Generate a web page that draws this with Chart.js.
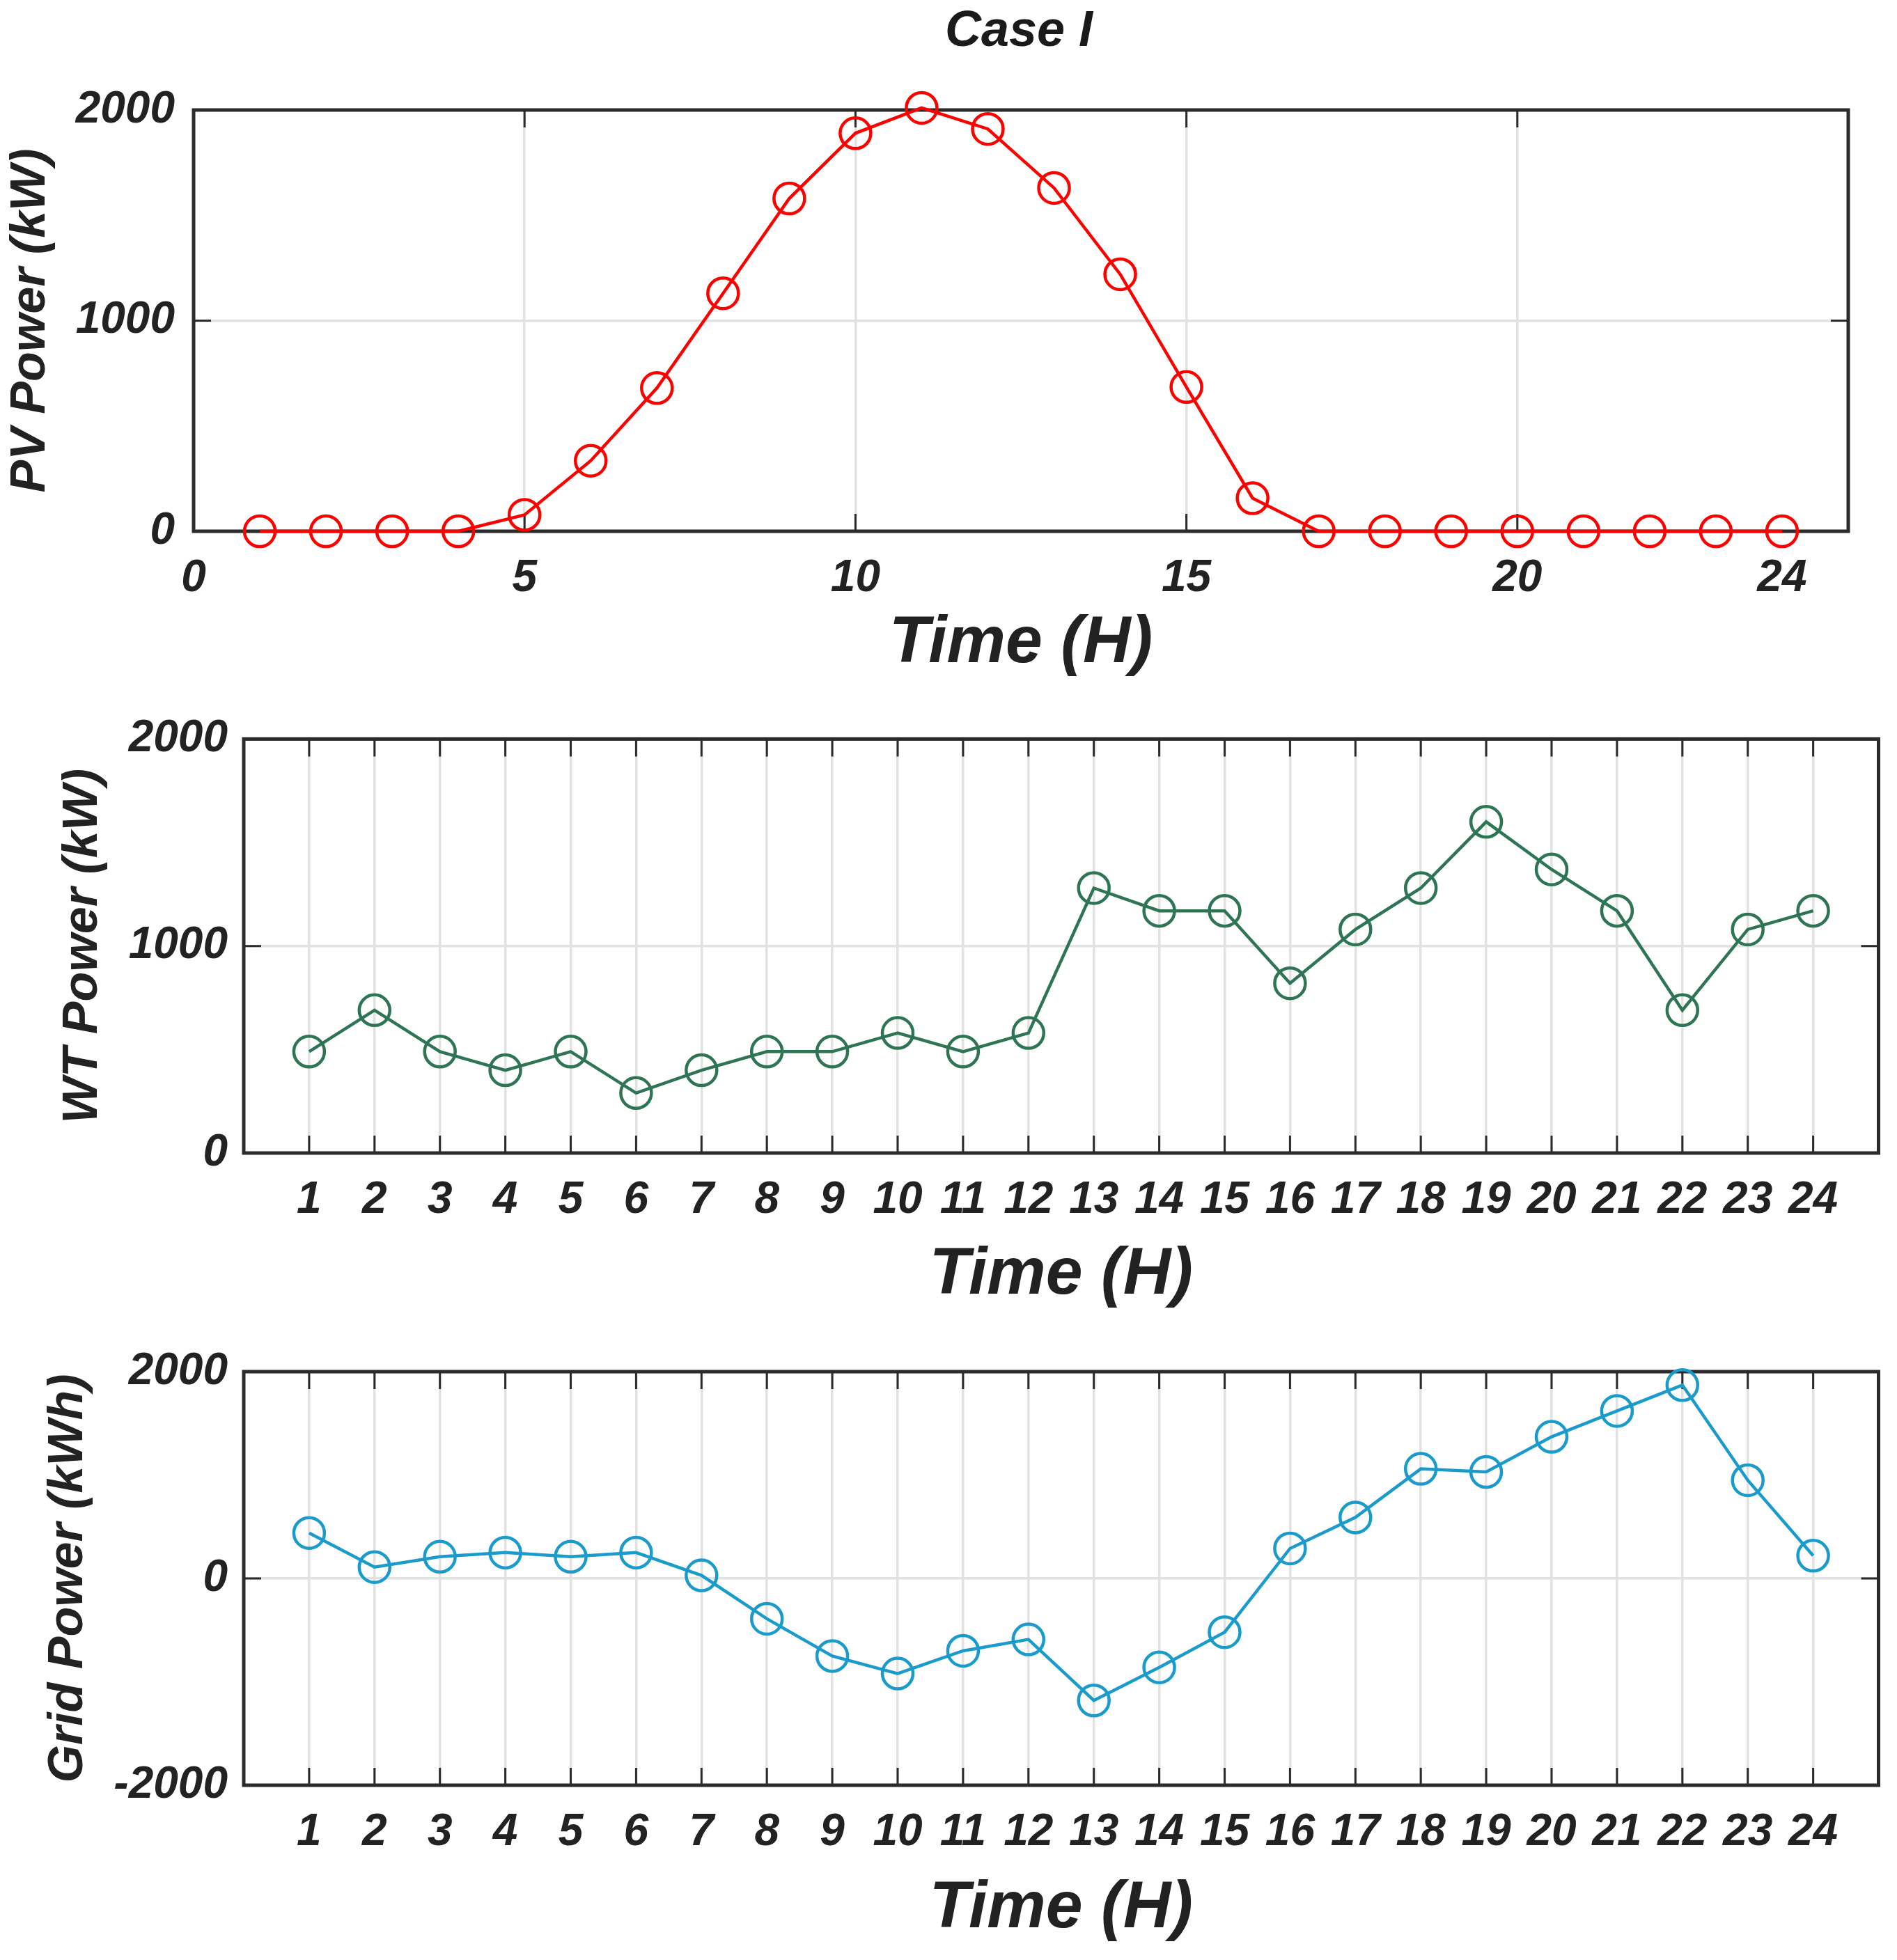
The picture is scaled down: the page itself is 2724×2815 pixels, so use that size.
<!DOCTYPE html>
<html>
<head>
<meta charset="utf-8">
<script src="https://cdn.jsdelivr.net/npm/chart.js@4.4.1/dist/chart.umd.min.js"></script>
<style>
  html, body { margin: 0; padding: 0; background: #ffffff; }
  body { width: 2724px; height: 2815px; position: relative; overflow: hidden; }
  canvas { position: absolute; left: 0; }
  #title { position: absolute; left: 1263px; width: 400px; top: 0px; height: 80px; line-height: 80px;
           text-align: center; font: italic bold 72px "Liberation Sans", Arial, sans-serif; color: #1a1a1a; }
</style>
</head>
<body>
<div id="title">Case I</div>
<canvas id="c1" width="2724" height="1000" style="top:0px"></canvas>
<canvas id="c2" width="2724" height="900" style="top:1000px"></canvas>
<canvas id="c3" width="2724" height="915" style="top:1900px"></canvas>
<script>
// ---------------- data ----------------
const hours = [1,2,3,4,5,6,7,8,9,10,11,12,13,14,15,16,17,18,19,20,21,22,23,24];
const pvPower = [0,0,0,0,78,335,680,1130,1580,1890,2010,1910,1630,1220,685,157,0,0,0,0,0,0,0,0];
const wtPower = [490,690,490,400,490,290,400,490,490,580,490,580,1280,1170,1170,820,1080,1280,1600,1370,1170,690,1080,1170];
const gridPower = [440,110,210,250,210,250,30,-390,-750,-920,-700,-590,-1180,-860,-520,290,590,1060,1030,1370,1620,1870,950,220];
const pvXTicks = [0,5,10,15,20,24];
const pvXGridless = [24];
const pvYTicks = [0,1000,2000];
const wtYTicks = [0,1000,2000];
const gridYTicks = [-2000,0,2000];
const xTitle = 'Time (H)';
const pvTitle = 'PV Power (kW)';
const wtTitle = 'WT Power (kW)';
const gridTitle = 'Grid Power (kWh)';

// ---------------- styles ----------------
const FAMILY = '"Liberation Sans", Arial, sans-serif';
const TEXT = '#222222';
const GRID = '#e2e2e2';
const AXIS = '#2b2b2b';

const boxPlugin = {
  id: 'boxTicks',
  beforeDatasetsDraw(chart, args, opts) {
    const {ctx, chartArea: {left, top, right, bottom}} = chart;
    const xs = chart.scales.x, ys = chart.scales.y;
    const skip = opts.skip || [];
    const L = 25;
    ctx.save();
    ctx.strokeStyle = AXIS;
    ctx.lineWidth = 3;
    ctx.beginPath();
    xs.ticks.forEach(t => {
      if (skip.includes(t.value)) return;
      const px = xs.getPixelForValue(t.value);
      ctx.moveTo(px, bottom); ctx.lineTo(px, bottom - L);
      ctx.moveTo(px, top); ctx.lineTo(px, top + L);
    });
    ys.ticks.forEach(t => {
      const py = ys.getPixelForValue(t.value);
      ctx.moveTo(left, py); ctx.lineTo(left + L, py);
      ctx.moveTo(right, py); ctx.lineTo(right - L, py);
    });
    ctx.stroke();
    ctx.lineWidth = 5;
    ctx.strokeRect(left, top, right - left, bottom - top);
    ctx.restore();
  }
};

function makeChart(id, cfg) {
  const xy = cfg.values.map((v, i) => ({x: hours[i], y: v}));
  return new Chart(document.getElementById(id), {
    type: 'line',
    data: {
      datasets: [{
        data: xy,
        borderColor: cfg.color,
        borderWidth: 4.5,
        pointStyle: 'circle',
        pointRadius: 22,
        pointBorderWidth: 4.5,
        pointBorderColor: cfg.color,
        pointBackgroundColor: 'rgba(0,0,0,0)',
        tension: 0,
        clip: false
      }]
    },
    options: {
      responsive: false,
      devicePixelRatio: 1,
      animation: false,
      events: [],
      layout: { padding: { left: 0, top: cfg.top, right: cfg.right, bottom: 0 } },
      plugins: {
        legend: { display: false },
        tooltip: { enabled: false },
        title: { display: false },
        boxTicks: { skip: cfg.skip || [] }
      },
      scales: {
        x: {
          type: 'linear',
          min: 0, max: 25,
          afterBuildTicks: s => { s.ticks = cfg.xTicks.map(v => ({value: v})); },
          afterFit: s => { s.height = cfg.xHeight; },
          grid: {
            drawTicks: false,
            color: c => (c.tick && (cfg.skip || []).includes(c.tick.value)) ? 'rgba(0,0,0,0)' : GRID,
            lineWidth: 3.5
          },
          border: { display: false },
          ticks: {
            autoSkip: false, maxRotation: 0, minRotation: 0,
            padding: 30, color: TEXT,
            font: { family: FAMILY, size: 64, weight: 'bold', style: 'italic' },
            callback: v => String(v)
          },
          title: {
            display: true, text: xTitle, color: TEXT,
            font: { family: FAMILY, size: 95, weight: 'bold', style: 'italic' },
            padding: { top: 0, bottom: cfg.xTitlePad }
          }
        },
        y: {
          min: cfg.yTicks[0], max: cfg.yTicks[cfg.yTicks.length - 1],
          afterBuildTicks: s => { s.ticks = cfg.yTicks.map(v => ({value: v})); },
          afterFit: s => { s.width = cfg.left; },
          grid: { drawTicks: false, color: GRID, lineWidth: 3.5 },
          border: { display: false },
          ticks: {
            padding: cfg.yTickPad, color: TEXT,
            font: { family: FAMILY, size: 64, weight: 'bold', style: 'italic' },
            callback: v => String(v)
          },
          title: {
            display: true, text: cfg.yTitle, color: TEXT,
            font: { family: FAMILY, size: 70, weight: 'bold', style: 'italic' },
            padding: { top: cfg.yTitlePad, bottom: 0 }
          }
        }
      }
    },
    plugins: [boxPlugin]
  });
}

makeChart('c1', {
  values: pvPower, color: '#ff0000', xTicks: pvXTicks, skip: pvXGridless, yTicks: pvYTicks,
  yTitle: pvTitle, top: 158, right: 2724 - 2654, left: 278, xHeight: 1000 - 763,
  xTitlePad: 18, yTickPad: 27, yTitlePad: 3
});
makeChart('c2', {
  values: wtPower, color: '#2e7555', xTicks: hours, yTicks: wtYTicks,
  yTitle: wtTitle, top: 59, right: 2724 - 2699, left: 350, xHeight: 900 - 656,
  xTitlePad: 11, yTickPad: 23, yTitlePad: 78
});
makeChart('c3', {
  values: gridPower, color: '#1a9bcc', xTicks: hours, yTicks: gridYTicks,
  yTitle: gridTitle, top: 70, right: 2724 - 2699, left: 350, xHeight: 915 - 664,
  xTitlePad: 16, yTickPad: 23, yTitlePad: 57
});
</script>
</body>
</html>
